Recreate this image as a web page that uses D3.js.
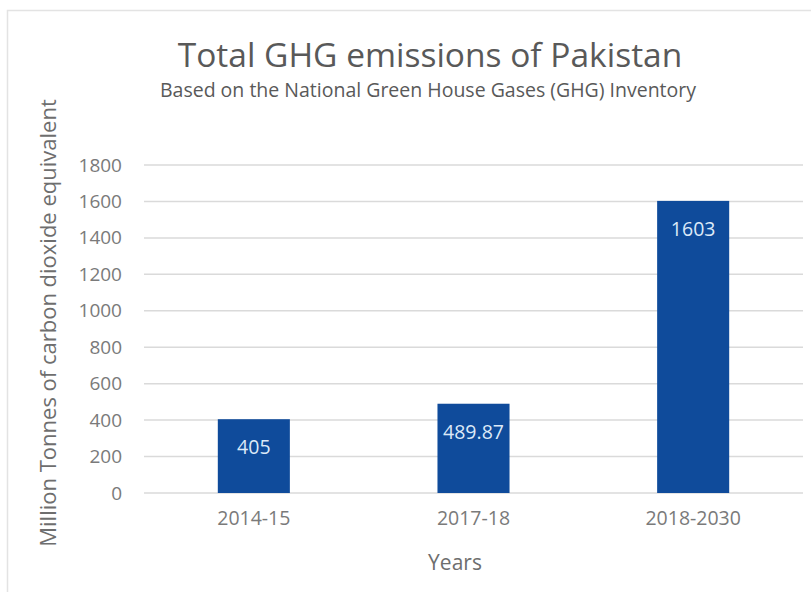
<!DOCTYPE html>
<html>
<head>
<meta charset="utf-8">
<script src="https://cdn.jsdelivr.net/npm/d3@7"></script>
<style>
  body { margin: 0; background: #fff; }
  text { font-family: "Open Sans", sans-serif; }
</style>
</head>
<body>
<div id="chart"></div>
<script>
// chart data
const years = ["2014-15", "2017-18", "2018-2030"];
const emissions = [405, 489.87, 1603];
const valueLabels = ["405", "489.87", "1603"];
const yTicks = [0, 200, 400, 600, 800, 1000, 1200, 1400, 1600, 1800];

const W = 811, H = 592;
const plotLeft = 144, plotRight = 803, plotTop = 165, plotBottom = 493;

const svg = d3.select("#chart").append("svg")
    .attr("width", W)
    .attr("height", H);

// light frame round the chart
svg.append("path")
    .attr("d", "M7.5," + H + "V10.5H" + W)
    .attr("fill", "none")
    .attr("stroke", "#e3e3e3")
    .attr("stroke-width", 1.5);

const xScale = d3.scaleBand()
    .domain(years)
    .range([plotLeft, plotRight])
    .paddingInner(0.672)
    .paddingOuter(0.336);

const yScale = d3.scaleLinear()
    .domain([0, 1800])
    .range([plotBottom, plotTop]);

// gridlines
svg.append("g")
    .selectAll("line")
    .data(yTicks)
    .join("line")
    .attr("x1", plotLeft)
    .attr("x2", plotRight)
    .attr("y1", d => yScale(d))
    .attr("y2", d => yScale(d))
    .attr("stroke", "#dadada")
    .attr("stroke-width", 1.5);

// y axis labels
const yAxis = svg.append("g")
    .attr("transform", "translate(122,0)")
    .call(d3.axisLeft(yScale).tickValues(yTicks).tickFormat(d3.format("d")).tickSize(0).tickPadding(0));
yAxis.select(".domain").remove();
yAxis.selectAll("text")
    .attr("fill", "#7a7a7a")
    .style("font-size", "19px")
    .style("font-family", "'Open Sans', sans-serif");

// bars
const bars = emissions.map((v, i) => ({ year: years[i], value: v, label: valueLabels[i] }));

svg.append("g")
    .selectAll("rect")
    .data(bars)
    .join("rect")
    .attr("x", d => xScale(d.year))
    .attr("y", d => yScale(d.value))
    .attr("width", xScale.bandwidth())
    .attr("height", d => yScale(0) - yScale(d.value))
    .attr("fill", "#0f4b9b");

svg.append("g")
    .selectAll("text")
    .data(bars)
    .join("text")
    .attr("x", d => xScale(d.year) + xScale.bandwidth() / 2)
    .attr("y", d => yScale(d.value) + 28)
    .attr("dy", "0.35em")
    .attr("text-anchor", "middle")
    .attr("fill", "#dce9f8")
    .style("font-size", "19.5px")
    .text(d => d.label);

// x axis labels
const xAxis = svg.append("g")
    .attr("transform", "translate(0," + (plotBottom + 18) + ")")
    .call(d3.axisBottom(xScale).tickSize(0).tickPadding(0));
xAxis.select(".domain").remove();
xAxis.selectAll("text")
    .attr("fill", "#7a7a7a")
    .style("font-size", "19.5px")
    .style("font-family", "'Open Sans', sans-serif");

// titles
svg.append("text")
    .attr("x", 430)
    .attr("y", 67)
    .attr("text-anchor", "middle")
    .attr("fill", "#595959")
    .style("font-size", "33.5px")
    .text("Total GHG emissions of Pakistan");

svg.append("text")
    .attr("x", 428)
    .attr("y", 97)
    .attr("text-anchor", "middle")
    .attr("fill", "#595959")
    .style("font-size", "19.5px")
    .text("Based on the National Green House Gases (GHG) Inventory");

svg.append("text")
    .attr("x", 455)
    .attr("y", 570)
    .attr("text-anchor", "middle")
    .attr("fill", "#6e6e6e")
    .style("font-size", "21px")
    .text("Years");

svg.append("text")
    .attr("transform", "translate(56,323) rotate(-90)")
    .attr("text-anchor", "middle")
    .attr("fill", "#6e6e6e")
    .style("font-size", "22px")
    .text("Million Tonnes of carbon dioxide equivalent");
</script>
</body>
</html>
